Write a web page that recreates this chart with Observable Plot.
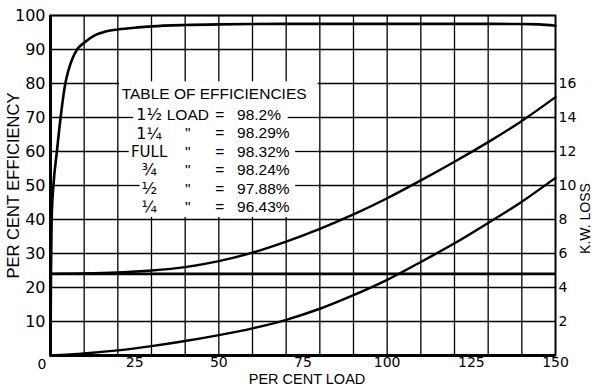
<!DOCTYPE html>
<html>
<head>
<meta charset="utf-8">
<script src="https://cdn.jsdelivr.net/npm/d3@7"></script>
<script src="https://cdn.jsdelivr.net/npm/@observablehq/plot@0.6"></script>
<style>
  html, body { margin: 0; padding: 0; background: #fff; }
</style>
</head>
<body>
<div id="chart"></div>
<script>
// ---- data ----
const loadTicks = [25, 50, 75, 100, 125, 150];
const effTicks = [10, 20, 30, 40, 50, 60, 70, 80, 90, 100];
const kwTicks = [2, 4, 6, 8, 10, 12, 14, 16];
const gridLoad = [0, 10, 20, 30, 40, 50, 60, 70, 80, 90, 100, 110, 120, 130, 140, 150];
const gridEff = [0, 10, 20, 30, 40, 50, 60, 70, 80, 90, 100];

// efficiency curve (% load -> % efficiency)
const effLoad =  [0, 0.15, 0.35, 0.9, 1.9, 3.0, 4.4, 5.3, 6.5, 7.9, 10, 13.4, 16, 20, 26, 30, 40, 50, 60, 80, 100, 120, 140, 145, 150];
const effValue = [0, 25, 40.5, 50.4, 60, 70, 80, 83.8, 87.3, 90, 92.0, 94.3, 95.2, 95.9, 96.5, 96.8, 97.2, 97.4, 97.5, 97.55, 97.55, 97.55, 97.5, 97.4, 97.0];

// losses (% load -> kW)
const lossLoad = [0, 10, 20, 30, 40, 50, 60, 70, 80, 90, 100, 110, 120, 130, 140, 150];
const totalLossKW =  [4.8, 4.82, 4.88, 5.0, 5.2, 5.55, 6.05, 6.7, 7.45, 8.3, 9.25, 10.3, 11.4, 12.55, 13.8, 15.2];
const copperLossKW = [0, 0.12, 0.3, 0.55, 0.85, 1.2, 1.6, 2.1, 2.75, 3.55, 4.45, 5.5, 6.6, 7.8, 9.05, 10.45];
const coreLossKW = 4.8;

// table of efficiencies
const tableTitle = "TABLE OF EFFICIENCIES";
const tableFraction = ["1½", "1¼", "FULL", "¾", "½", "¼"];
const tableUnit = ["LOAD", "\"", "\"", "\"", "\"", "\""];
const tableEff = [98.2, 98.29, 98.32, 98.24, 97.88, 96.43];
const tableEffText = ["98.2%", "98.29%", "98.32%", "98.24%", "97.88%", "96.43%"];

// ---- layout (annotation placement) ----
const kwToEff = 5;               // right axis: 0..20 kW spans 0..100 %
const rowY = [70.7, 65.3, 59.9, 54.6, 49.1, 43.7];
const titleY = 76.9;
const col = {frac: 29.3, unit: 40.8, eq: 50.3, val: 55.4, title: 48.6};
const tableBox = {x1: 20.5, x2: 79.5, y1: 40.6, y2: 80.5};
const leaders = [
  {y: 70, x1: 20.5, x2: 24.7}, {y: 70, x1: 70.6, x2: 79.5},
  {y: 60, x1: 20.5, x2: 23.4}, {y: 60, x1: 72.8, x2: 79.5},
  {y: 50, x1: 20.5, x2: 26.6}, {y: 50, x1: 72.8, x2: 79.5}
];

const effData = effLoad.map((x, i) => ({x, y: effValue[i]}));
const totalData = lossLoad.map((x, i) => ({x, kw: totalLossKW[i]}));
const copperData = lossLoad.map((x, i) => ({x, kw: copperLossKW[i]}));
const rows = tableFraction.map((f, i) => ({f, u: tableUnit[i], v: tableEffText[i], e: tableEff[i], y: rowY[i]}));

const numFont = "DejaVu Sans";
const letterFont = "Liberation Sans";

const chart = Plot.plot({
  width: 600,
  height: 390,
  marginLeft: 50,
  marginRight: 45,
  marginTop: 15,
  marginBottom: 35,
  x: {domain: [0, 150]},
  y: {domain: [0, 100]},
  style: {fontFamily: numFont, background: "#fff", color: "#000"},
  marks: [
    // grid
    Plot.ruleX(gridLoad, {stroke: "#000", strokeWidth: 1.3}),
    Plot.ruleY(gridEff, {stroke: "#000", strokeWidth: 1.3}),
    // table background
    Plot.rect([tableBox], {x1: "x1", x2: "x2", y1: "y1", y2: "y2", fill: "#fff"}),
    Plot.ruleY(leaders, {y: "y", x1: "x1", x2: "x2", stroke: "#000", strokeWidth: 1.3}),
    // table text
    Plot.text([tableTitle], {x: () => col.title, y: () => titleY, fontFamily: letterFont, fontSize: 15.5, text: d => d}),
    Plot.text(rows, {x: () => col.frac, y: "y", text: "f", fontFamily: numFont, fontSize: d => d.f === "FULL" ? 15 : 16}),
    Plot.text(rows, {x: () => col.unit, y: "y", text: "u", fontFamily: letterFont, fontSize: 15.5}),
    Plot.text(rows, {x: () => col.eq, y: "y", text: () => "=", fontFamily: letterFont, fontSize: 15.5}),
    Plot.text(rows, {x: () => col.val, y: "y", text: "v", textAnchor: "start", fontFamily: letterFont, fontSize: 15.5}),
    // curves
    Plot.ruleY([coreLossKW * kwToEff], {x1: 0, x2: 150, stroke: "#000", strokeWidth: 2.6}),
    Plot.line(copperData, {x: "x", y: d => d.kw * kwToEff, curve: "monotone-x", stroke: "#000", strokeWidth: 2.4}),
    Plot.line(totalData, {x: "x", y: d => d.kw * kwToEff, curve: "monotone-x", stroke: "#000", strokeWidth: 2.4}),
    Plot.line(effData, {x: "x", y: "y", curve: "monotone-x", stroke: "#000", strokeWidth: 2.6}),
    // frame
    Plot.frame({stroke: "#000", strokeWidth: 1.8}),
    Plot.ruleX([0], {stroke: "#000", strokeWidth: 3}),
    Plot.ruleY([0], {stroke: "#000", strokeWidth: 3}),
    // axes
    Plot.axisX(loadTicks, {tickSize: 0, tickPadding: 2, fontSize: 14, label: null}),
    Plot.axisY(effTicks, {anchor: "left", tickSize: 0, tickPadding: 5, fontSize: 16, label: null}),
    Plot.axisY(kwTicks.map(k => k * kwToEff), {anchor: "right", tickSize: 0, tickPadding: 3, fontSize: 14, tickFormat: d => String(d / kwToEff), label: null}),
    Plot.text(["0"], {x: [0], y: [0], dx: -8.5, dy: 9, fontSize: 14}),
    // axis titles
    Plot.text(["PER CENT LOAD"], {frameAnchor: "bottom", x: [75], dy: 28.5, dx: 4, textAnchor: "middle", fontFamily: letterFont, fontSize: 14.5}),
    Plot.text(["PER CENT EFFICIENCY"], {frameAnchor: "left", dx: -37, rotate: -90, textAnchor: "middle", fontFamily: letterFont, fontSize: 16.5}),
    Plot.text(["K.W. LOSS"], {frameAnchor: "right", y: [40.3], dx: 30, rotate: -90, textAnchor: "middle", fontFamily: letterFont, fontSize: 14})
  ]
});
document.getElementById("chart").appendChild(chart);
</script>
</body>
</html>
